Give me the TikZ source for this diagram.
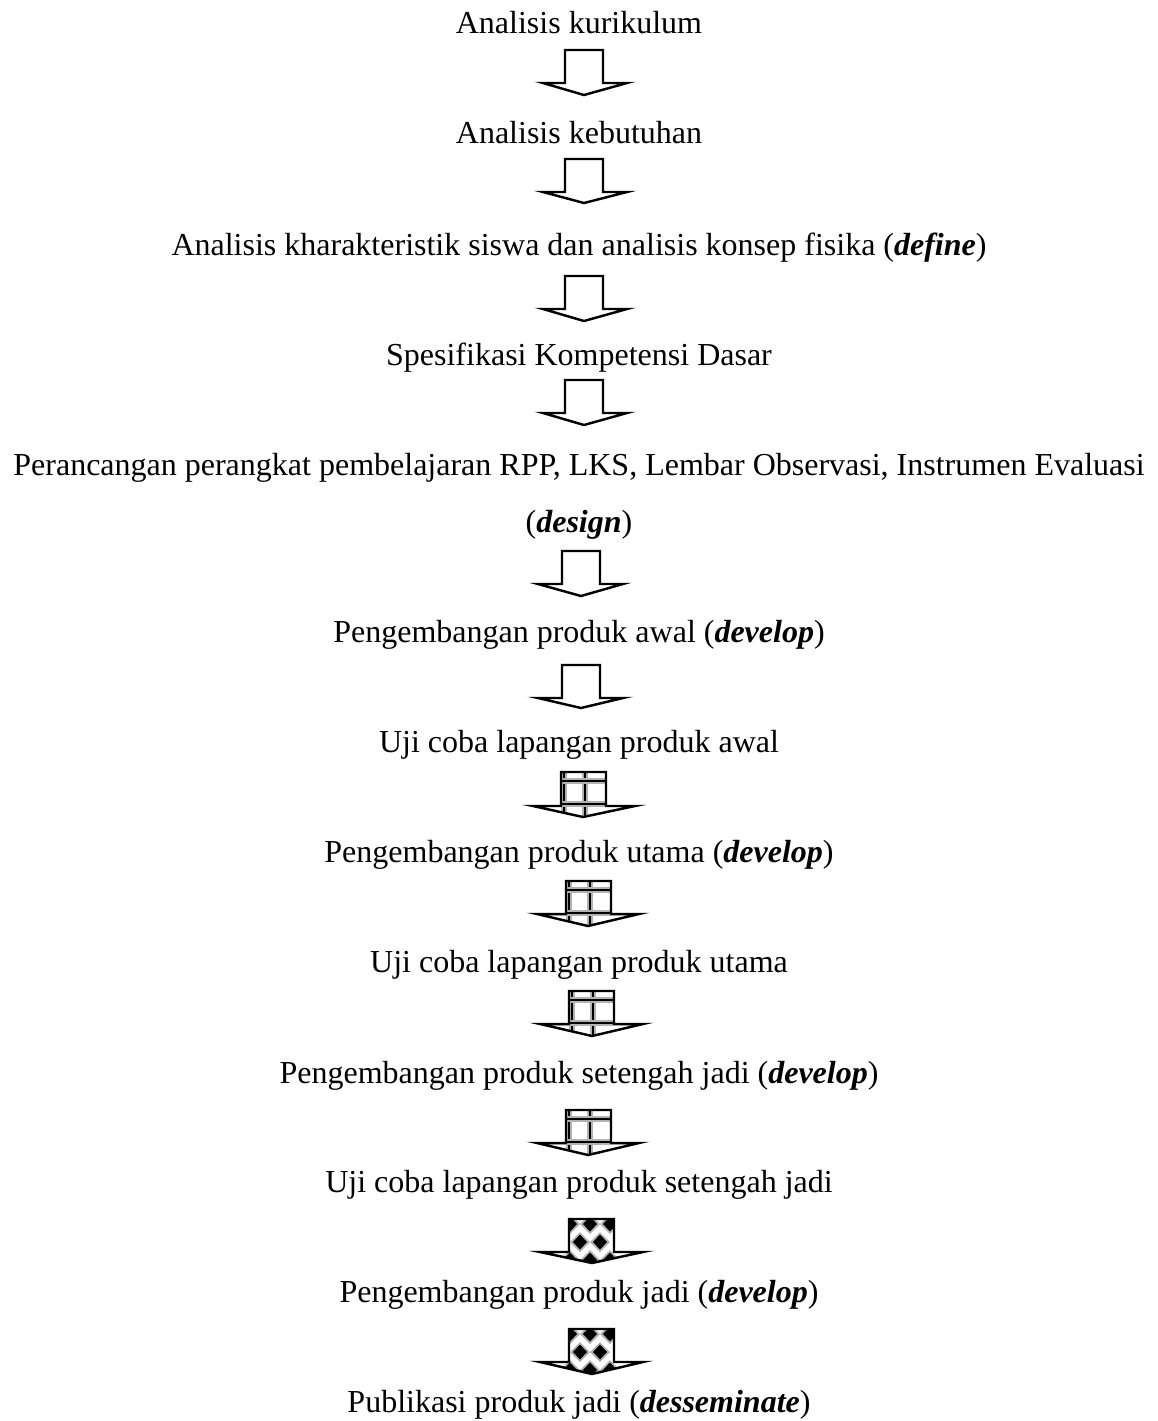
\documentclass[tikz,border=0pt]{standalone}
\usepackage{fontspec}
\setmainfont{Liberation Serif}
\newcommand\plainarrow[8]{%
  \draw[arr] (#1,#3) -- (#2,#3) -- (#2,#4) -- (#6,#4) -- (#8,#7) -- (#5,#4) -- (#1,#4) -- cycle;}
\newcommand\gridarrow[8]{%
  \begin{scope}
    \clip (#1,#3) -- (#2,#3) -- (#2,#4) -- (#6,#4) -- (#8,#7) -- (#5,#4) -- (#1,#4) -- cycle;
    \fill[white] (#5,#3) rectangle (#6,#7);
    \foreach \dx in {3,24}{
      \draw[gridhalo] ({#1+\dx},#3) -- ({#1+\dx},#7);
      \draw[gridline] ({#1+\dx},#3) -- ({#1+\dx},#7);}
    \foreach \dy in {9,32}{
      \draw[gridhalo] (#5,{#3+\dy}) -- (#6,{#3+\dy});
      \draw[gridline] (#5,{#3+\dy}) -- (#6,{#3+\dy});}
  \end{scope}
  \draw[arr,fill=none] (#1,#3) -- (#2,#3) -- (#2,#4) -- (#6,#4) -- (#8,#7) -- (#5,#4) -- (#1,#4) -- cycle;}
\newcommand\diamondarrow[8]{%
  \begin{scope}
    \clip (#1,#3) -- (#2,#3) -- (#2,#4) -- (#6,#4) -- (#8,#7) -- (#5,#4) -- (#1,#4) -- cycle;
    \fill[white] (#5,#3) rectangle (#6,#7);
    \foreach \cx/\cy in {1/5,21/5,41/5,11/23,31/23,1/41,21/41,41/41}{
      \fill[black!30] ({#1+\cx-10},{#3+\cy}) -- ({#1+\cx},{#3+\cy-10}) -- ({#1+\cx+10},{#3+\cy}) -- ({#1+\cx},{#3+\cy+10}) -- cycle;
      \fill[black] ({#1+\cx-7},{#3+\cy}) -- ({#1+\cx},{#3+\cy-7.5}) -- ({#1+\cx+7},{#3+\cy}) -- ({#1+\cx},{#3+\cy+7.5}) -- cycle;}
  \end{scope}
  \draw[arr,fill=none] (#1,#3) -- (#2,#3) -- (#2,#4) -- (#6,#4) -- (#8,#7) -- (#5,#4) -- (#1,#4) -- cycle;}
\newcommand\bi[1]{\textbf{\textit{#1}}}
\begin{document}
\begin{tikzpicture}[x=0.45pt,y=-0.45pt,
  lbl/.style={anchor=base, inner sep=0pt, font=\fontsize{14.4}{17}\selectfont},
  arr/.style={draw=black, line width=1.1pt, fill=white, line join=miter},
  gridline/.style={draw=black, line width=0.9pt},
  gridhalo/.style={draw=black!30, line width=2.4pt}]
\useasboundingbox (0,0) rectangle (1158,1421);
\fill[white] (0,0) rectangle (1158,1421);

\node[lbl] (t1)  at (579,33)   {Analisis kurikulum};
\node[lbl] (t2)  at (579,143)  {Analisis kebutuhan};
\node[lbl] (t3)  at (579,255)  {Analisis kharakteristik siswa dan analisis konsep fisika (\bi{define})};
\node[lbl] (t4)  at (579,365)  {Spesifikasi Kompetensi Dasar};
\node[lbl] (t5)  at (579,475)  {Perancangan perangkat pembelajaran RPP, LKS, Lembar Observasi, Instrumen Evaluasi};
\node[lbl] (t5b) at (579,532)  {(\bi{design})};
\node[lbl] (t6)  at (579,642)  {Pengembangan produk awal (\bi{develop})};
\node[lbl] (t7)  at (579,752)  {Uji coba lapangan produk awal};
\node[lbl] (t8)  at (579,862)  {Pengembangan produk utama (\bi{develop})};
\node[lbl] (t9)  at (579,972)  {Uji coba lapangan produk utama};
\node[lbl] (t10) at (579,1083) {Pengembangan produk setengah jadi (\bi{develop})};
\node[lbl] (t11) at (579,1192) {Uji coba lapangan produk setengah jadi};
\node[lbl] (t12) at (579,1302) {Pengembangan produk jadi (\bi{develop})};
\node[lbl] (t13) at (579,1412) {Publikasi produk jadi (\bi{desseminate})};

% args: shaft left, shaft right, shaft top, head base, head left, head right, tip y, tip x
\plainarrow{565}{603}{50}{83}{543}{627}{95}{584}
\plainarrow{565}{603}{159}{192}{543}{627}{203}{584}
\plainarrow{565}{603}{276}{309}{543}{627}{321}{584}
\plainarrow{565}{603}{380}{413}{543}{627}{425}{584}
\plainarrow{562}{600}{551}{584}{538}{623}{596}{581}
\plainarrow{562}{600}{665}{698}{538}{623}{708}{581}
\gridarrow{561}{606}{772}{806}{533}{635}{817}{583}
\gridarrow{566}{611}{881}{914}{537}{639}{926}{588}
\gridarrow{569}{614}{991}{1024}{540}{643}{1036}{592}
\gridarrow{566}{611}{1110}{1143}{537}{639}{1155}{588}
\diamondarrow{569}{614}{1219}{1252}{540}{643}{1263}{592}
\diamondarrow{569}{614}{1329}{1362}{540}{643}{1374}{592}
\end{tikzpicture}
\end{document}
